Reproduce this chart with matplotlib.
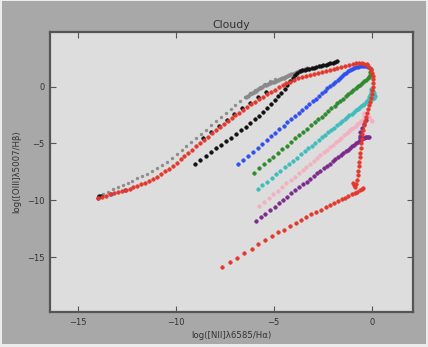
import matplotlib
matplotlib.use("Agg")
import matplotlib.pyplot as plt
from matplotlib.patches import Rectangle

# ---- model tracks: log([NII]/Ha) vs log([OIII]/Hb) ----
gray_x = [-13.95, -13.7, -13.45, -13.2, -12.95, -12.7, -12.45, -12.2, -11.95, -11.7,
          -11.45, -11.2, -10.95, -10.7, -10.45, -10.2, -9.95, -9.7, -9.45, -9.2,
          -8.95, -8.7, -8.45, -8.2, -7.95, -7.7, -7.45, -7.2, -6.95, -6.7,
          -6.45, -6.2, -5.95, -5.7, -5.45, -5.2, -4.95]
gray_y = [-9.6, -9.42, -9.22, -9.02, -8.83, -8.64, -8.45, -8.26, -8.06, -7.86,
          -7.65, -7.42, -7.17, -6.9, -6.6, -6.28, -5.95, -5.6, -5.25, -4.89,
          -4.52, -4.15, -3.78, -3.41, -3.04, -2.67, -2.3, -1.94, -1.59, -1.25,
          -0.92, -0.6, -0.29, 0.0, 0.25, 0.47, 0.66]

gray2_x = [-6.4, -6.3, -6.2, -6.1, -6.0, -5.9, -5.8, -5.7, -5.6, -5.5, -5.4, -5.3,
           -5.2, -5.1, -5.0, -4.9, -4.8, -4.7, -4.6, -4.5, -4.4, -4.3, -4.2, -4.1,
           -4.0, -3.9, -3.8, -3.7, -3.6, -3.5, -3.4, -3.3]
gray2_y = [-0.9, -0.79, -0.68, -0.57, -0.46, -0.35, -0.24, -0.13, -0.02, 0.1, 0.17, 0.24,
           0.31, 0.37, 0.44, 0.51, 0.58, 0.65, 0.71, 0.78, 0.85, 0.92, 0.99, 1.06,
           1.12, 1.19, 1.26, 1.33, 1.4, 1.46, 1.53, 1.6]

black_x = [-9.03, -8.75, -8.47, -8.2, -7.93, -7.67, -7.41, -7.16, -6.91, -6.67,
           -6.43, -6.2, -5.98, -5.76, -5.55, -5.35, -5.15, -4.96, -4.78, -4.61,
           -4.45, -4.3, -4.16, -4.03, -3.91, -3.79, -3.67, -3.55, -3.43, -3.31,
           -3.19, -3.07, -2.95, -2.83, -2.71, -2.59, -2.47, -2.35, -2.23, -2.11,
           -1.99, -1.87, -1.78,
           -13.92, -13.8, -8.6, -8.2, -7.8, -7.4, -7.0, -6.6, -6.2, -5.8, -5.4]
black_y = [-6.8, -6.45, -6.1, -5.77, -5.44, -5.12, -4.8, -4.48, -4.16, -3.84,
           -3.52, -3.2, -2.88, -2.55, -2.22, -1.89, -1.55, -1.21, -0.87, -0.53,
           -0.19, 0.14, 0.46, 0.76, 1.02, 1.22, 1.35, 1.42, 1.47, 1.52,
           1.57, 1.62, 1.67, 1.72, 1.77, 1.82, 1.87, 1.93, 1.99, 2.05,
           2.11, 2.17, 2.22,
           -9.62, -9.58, -4.54, -3.98, -3.44, -2.92, -2.4, -1.9, -1.42, -0.96, -0.52]

blue_x = [-6.8, -6.55, -6.3, -6.06, -5.82, -5.59, -5.36, -5.14, -4.92, -4.71,
          -4.5, -4.3, -4.1, -3.91, -3.72, -3.54, -3.36, -3.19, -3.02, -2.86,
          -2.7, -2.55, -2.4, -2.26, -2.12, -1.99, -1.86, -1.74, -1.62, -1.51,
          -1.4, -1.3, -1.2, -1.1, -1.0, -0.9, -0.8, -0.7, -0.6, -0.5,
          -0.4, -0.3, -0.2, -13.3]
blue_y = [-6.8, -6.43, -6.07, -5.72, -5.37, -5.03, -4.7, -4.38, -4.06, -3.75,
          -3.44, -3.15, -2.86, -2.58, -2.3, -2.04, -1.78, -1.53, -1.28, -1.05,
          -0.81, -0.6, -0.38, -0.17, 0.03, 0.22, 0.41, 0.59, 0.76, 0.92,
          1.08, 1.22, 1.36, 1.48, 1.58, 1.66, 1.72, 1.76, 1.78, 1.79,
          1.79, 1.78, 1.75, -9.4]

green_x = [-6.0, -5.75, -5.5, -5.26, -5.02, -4.79, -4.56, -4.34, -4.12, -3.91,
           -3.7, -3.5, -3.3, -3.11, -2.92, -2.74, -2.56, -2.39, -2.22, -2.06,
           -1.9, -1.75, -1.6, -1.46, -1.32, -1.19, -1.06, -0.94, -0.82, -0.71,
           -0.6, -0.5, -0.4, -0.3, -0.22, -0.15, -0.1, -0.07, -0.06]
green_y = [-7.55, -7.19, -6.84, -6.49, -6.15, -5.82, -5.49, -5.18, -4.86, -4.56,
           -4.26, -3.98, -3.69, -3.42, -3.15, -2.89, -2.63, -2.39, -2.14, -1.91,
           -1.69, -1.47, -1.26, -1.06, -0.86, -0.67, -0.49, -0.31, -0.14, 0.01,
           0.17, 0.31, 0.46, 0.6, 0.72, 0.85, 1.05, 1.3, 1.55]

cyan_x = [-5.82, -5.58, -5.34, -5.11, -4.88, -4.66, -4.44, -4.23, -4.02, -3.82,
          -3.62, -3.43, -3.24, -3.06, -2.88, -2.71, -2.54, -2.38, -2.22, -2.07,
          -1.92, -1.78, -1.64, -1.51, -1.38, -1.26, -1.14, -1.03, -0.92, -0.82,
          -0.72, -0.63, -0.54, -0.46, -0.38, -0.3, -0.23, -0.17, -0.12, -0.08,
          -0.05, -0.02, 0.05, 0.12, 0.15, 0.1, 0.02]
cyan_y = [-9.0, -8.67, -8.34, -8.02, -7.7, -7.4, -7.1, -6.81, -6.52, -6.24,
          -5.96, -5.7, -5.44, -5.19, -4.94, -4.71, -4.47, -4.25, -4.03, -3.82,
          -3.62, -3.42, -3.23, -3.05, -2.87, -2.71, -2.54, -2.39, -2.24, -2.1,
          -1.96, -1.84, -1.71, -1.6, -1.49, -1.38, -1.28, -1.15, -0.95, -0.7,
          -0.45, -0.25, -0.35, -0.6, -0.85, -1.0, -1.05]

pink_x = [-5.73, -5.49, -5.25, -5.02, -4.79, -4.57, -4.35, -4.14, -3.93, -3.73,
          -3.53, -3.34, -3.15, -2.97, -2.79, -2.62, -2.45, -2.29, -2.13, -1.98,
          -1.83, -1.69, -1.55, -1.42, -1.29, -1.17, -1.05, -0.94, -0.83, -0.73,
          -0.63, -0.54, -0.45, -0.37, -0.4, -0.42, -0.3, -0.15, -0.03, 0.0]
pink_y = [-10.5, -10.15, -9.81, -9.48, -9.15, -8.83, -8.51, -8.21, -7.91, -7.62,
          -7.33, -7.06, -6.78, -6.53, -6.27, -6.02, -5.78, -5.55, -5.32, -5.1,
          -4.89, -4.68, -4.48, -4.29, -4.11, -3.93, -3.76, -3.6, -3.45, -3.3,
          -3.16, -3.03, -2.9, -2.78, -2.55, -2.35, -2.45, -2.7, -2.9, -3.0]

purple_x = [-5.9, -5.66, -5.42, -5.19, -4.96, -4.74, -4.52, -4.31, -4.1, -3.9,
            -3.7, -3.51, -3.32, -3.14, -2.96, -2.79, -2.62, -2.46, -2.3, -2.15,
            -2.0, -1.86, -1.72, -1.59, -1.46, -1.34, -1.22, -1.11, -1.0, -0.9,
            -0.8, -0.7, -0.6, -0.5, -0.4, -0.3, -0.2, -0.12, -0.3, -0.45,
            -0.58, -0.62, -0.58, -0.5, -0.42, -0.32, -13.98, -12.6]
purple_y = [-11.8, -11.48, -11.16, -10.85, -10.54, -10.25, -9.95, -9.67, -9.39, -9.12,
            -8.85, -8.6, -8.34, -8.1, -7.86, -7.63, -7.4, -7.19, -6.98, -6.78,
            -6.57, -6.39, -6.2, -6.02, -5.85, -5.69, -5.53, -5.38, -5.23, -5.1,
            -4.97, -4.83, -4.7, -4.6, -4.52, -4.46, -4.42, -4.4, -4.45, -4.5,
            -4.5, -4.3, -3.95, -3.6, -3.25, -2.9, -9.8, -9.05]

red_x = [-13.95, -13.75, -13.55, -13.35, -13.15, -12.95, -12.75, -12.55, -12.35, -12.15,
         -11.95, -11.75, -11.55, -11.35, -11.15, -10.95, -10.75, -10.55, -10.35, -10.15,
         -9.95, -9.75, -9.55, -9.35, -9.15, -8.95, -8.75, -8.55, -8.35, -8.15,
         -7.95, -7.75, -7.55, -7.35, -7.15, -6.95, -6.75, -6.55, -6.35, -6.15,
         -5.95, -5.75, -5.55, -5.35, -5.15, -4.95, -4.75, -4.55, -4.35, -4.15,
         -3.95, -3.75, -3.55, -3.35, -3.15, -2.95, -2.75, -2.55, -2.35, -2.15,
         -1.95, -1.75, -1.55, -1.35, -1.15, -0.95, -0.8, -0.65, -0.5, -0.38,
         -0.27, -0.17, -0.09, -0.03, 0.02, 0.05, 0.07, 0.07, 0.06, 0.03,
         -0.01, -0.05, -0.1, -0.15, -0.2, -0.25, -0.3, -0.35, -0.4, -0.44,
         -0.48, -0.51, -0.54, -0.57, -0.6, -0.62, -0.64, -0.66, -0.69, -0.72,
         -0.76, -0.8, -0.84, -0.9, -0.95]
red_y = [-9.75, -9.66, -9.57, -9.48, -9.39, -9.29, -9.19, -9.08, -8.97, -8.85,
         -8.73, -8.6, -8.45, -8.29, -8.11, -7.91, -7.69, -7.46, -7.21, -6.95,
         -6.68, -6.4, -6.11, -5.82, -5.53, -5.24, -4.95, -4.67, -4.39, -4.11,
         -3.84, -3.57, -3.31, -3.05, -2.79, -2.54, -2.29, -2.04, -1.8, -1.56,
         -1.33, -1.1, -0.88, -0.67, -0.46, -0.26, -0.07, 0.11, 0.28, 0.44,
         0.58, 0.71, 0.83, 0.94, 1.04, 1.13, 1.22, 1.31, 1.4, 1.49,
         1.58, 1.67, 1.76, 1.85, 1.93, 2.0, 2.05, 2.07, 2.06, 2.02,
         1.94, 1.82, 1.66, 1.46, 1.22, 0.95, 0.65, 0.33, 0.0, -0.33,
         -0.66, -0.99, -1.32, -1.66, -2.0, -2.35, -2.7, -3.05, -3.42, -3.8,
         -4.2, -4.6, -5.0, -5.4, -5.8, -6.2, -6.6, -7.0, -7.4, -7.8,
         -8.2, -8.55, -8.85, -8.65, -8.45]

red2_x = [-7.64, -7.24, -6.86, -6.49, -6.13, -5.78, -5.44, -5.11, -4.79, -4.48,
          -4.18, -3.89, -3.61, -3.34, -3.08, -2.83, -2.59, -2.36, -2.14, -1.93,
          -1.73, -1.54, -1.36, -1.19, -1.03, -0.88, -0.74, -0.62, -0.52, -0.45]
red2_y = [-15.87, -15.44, -15.03, -14.63, -14.24, -13.86, -13.5, -13.14, -12.8, -12.57,
          -12.28, -12.01, -11.74, -11.48, -11.23, -11.01, -10.8, -10.6, -10.41, -10.23,
          -10.06, -9.9, -9.75, -9.6, -9.46, -9.34, -9.22, -9.11, -9.02, -8.92]

x_ticks = [-15, -10, -5, 0]
y_ticks = [-15, -10, -5, 0]

title = "Cloudy"
x_label = "log([NII]λ6585/Hα)"
y_label = "log([OIII]λ5007/Hβ)"

# ---- figure ----
fig = plt.figure(figsize=(4.28, 3.47), dpi=100, facecolor="#ececec")
fig.patches.append(Rectangle((0.005, 0.009), 0.99, 0.988, transform=fig.transFigure,
                             facecolor="#a8a8a8", edgecolor="none", zorder=-10))
ax = fig.add_axes([0.117, 0.101, 0.848, 0.807])
ax.set_facecolor("#dddddd")

mk = dict(linestyle="none", marker="o")
ax.plot(gray_x, gray_y, color="#8a8a8a", ms=2.0, mew=0.4, **mk)
ax.plot(gray2_x, gray2_y, color="#8a8a8a", ms=2.6, mew=0.4, **mk)
ax.plot(black_x, black_y, color="#111111", ms=2.6, mew=0.4, **mk)
ax.plot(blue_x, blue_y, color="#3050ee", ms=2.6, mew=0.4, **mk)
ax.plot(green_x, green_y, color="#2f8a2f", ms=2.6, mew=0.4, **mk)
ax.plot(cyan_x, cyan_y, color="#3fbcbc", ms=2.6, mew=0.4, **mk)
ax.plot(pink_x, pink_y, color="#f2b0c0", ms=2.6, mew=0.4, **mk)
ax.plot(purple_x, purple_y, color="#7a2a8c", ms=2.6, mew=0.4, **mk)
ax.plot(red_x, red_y, color="#e3382c", ms=2.6, mew=0.4, **mk)
ax.plot(red2_x, red2_y, color="#e3382c", ms=2.6, mew=0.4, **mk)

ax.set_xlim(-16.4, 2.1)
ax.set_ylim(-19.8, 4.8)
ax.set_xticks(x_ticks)
ax.set_yticks(y_ticks)
ax.tick_params(direction="in", length=4, width=0.8, color="#555555",
               labelsize=6.0, labelcolor="#333333", top=True, right=True, pad=4)
for s in ax.spines.values():
    s.set_color("#555555")
    s.set_linewidth(1.6)

ax.set_title(title, fontsize=7.8, color="#333333", pad=3)
ax.set_xlabel(x_label, fontsize=6.2, color="#333333", labelpad=3)
ax.set_ylabel(y_label, fontsize=6.2, color="#333333", labelpad=4)

fig.savefig("out.png", dpi=100, facecolor=fig.get_facecolor())
